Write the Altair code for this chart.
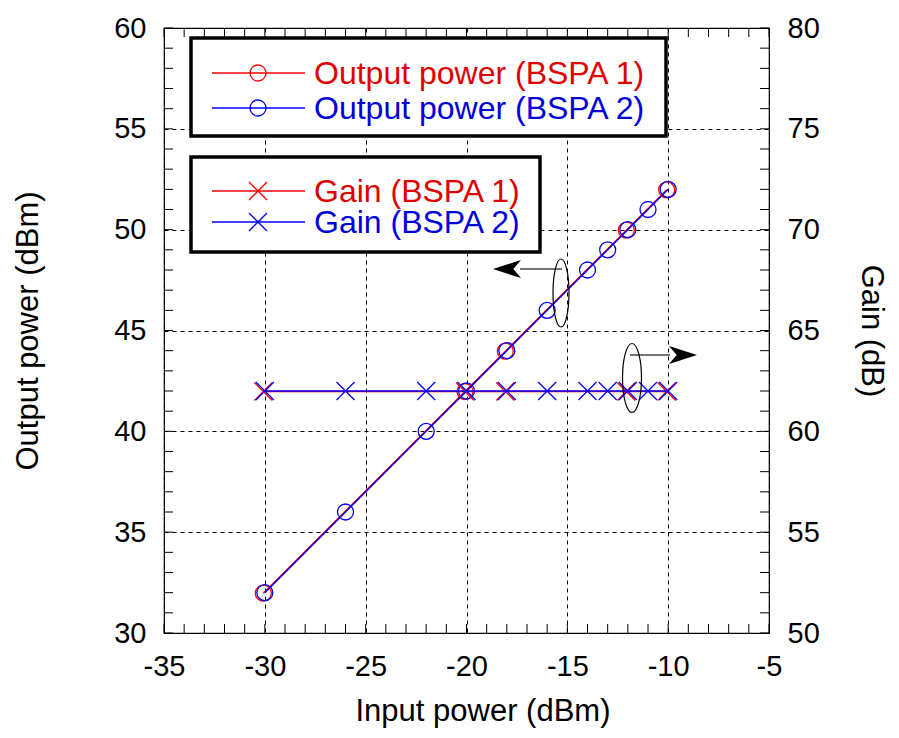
import altair as alt
import pandas as pd

# ---------------- data ----------------
input_bspa1 = [-30, -20, -18, -12, -10]
output_bspa1 = [32, 42, 44, 50, 52]
gain_bspa1 = [62, 62, 62, 62, 62]

input_bspa2 = [-30, -26, -22, -20, -18, -16, -14, -13, -12, -11, -10]
output_bspa2 = [32, 36, 40, 42, 44, 46, 48, 49, 50, 51, 52]
gain_bspa2 = [62, 62, 62, 62, 62, 62, 62, 62, 62, 62, 62]

x_major = [-35, -30, -25, -20, -15, -10, -5]
y_left_major = [30, 35, 40, 45, 50, 55, 60]
y_right_major = [50, 55, 60, 65, 70, 75, 80]
x_minor = list(range(-35, -4))
y_minor = list(range(30, 61))

legend_output = ["Output power (BSPA 1)", "Output power (BSPA 2)"]
legend_gain = ["Gain (BSPA 1)", "Gain (BSPA 2)"]

# ---------------- styles ----------------
FONT = "Liberation Sans"
W, H = 605, 605
RED, BLUE = "#ff0000", "#0000ff"
RED_T, BLUE_T = "#e00000", "#0000d8"
TICK = 9
CIRCLE_SIZE = 256
X_PATH = "M-1,-1L1,1M-1,1L1,-1"
X_SIZE = 324

xs = alt.Scale(domain=[-35, -5], nice=False, zero=False)
yl = alt.Scale(domain=[30, 60], nice=False, zero=False)
yr = alt.Scale(domain=[50, 80], nice=False, zero=False)

common = dict(
    labelFont=FONT, labelFontSize=29, labelColor="black",
    labelExpr="'' + datum.value",
    titleFont=FONT, titleFontSize=31, titleFontWeight="normal", titleColor="black",
    ticks=False, tickSize=0, domain=False,
    labelFlush=False, labelOverlap=False, labelBound=False,
)
x_axis = alt.Axis(values=x_major, title="Input power (dBm)", grid=True,
                  gridDash=[4, 4], gridColor="black", gridOpacity=1, gridWidth=1,
                  labelPadding=19, titlePadding=15, titleX=W / 2 + 16, **common)
yl_axis = alt.Axis(values=y_left_major, title="Output power (dBm)", grid=True,
                   gridDash=[4, 4], gridColor="black", gridOpacity=1, gridWidth=1,
                   labelPadding=18, titlePadding=69, **common)
yr_axis = alt.Axis(values=y_right_major, title="Gain (dB)", orient="right", grid=False,
                   labelPadding=18, titlePadding=35, **common)

df1 = pd.DataFrame({"input": input_bspa1, "output": output_bspa1, "gain": gain_bspa1})
df2 = pd.DataFrame({"input": input_bspa2, "output": output_bspa2, "gain": gain_bspa2})
dxm = pd.DataFrame({"v": x_minor})
dym = pd.DataFrame({"v": y_minor})

X = alt.X("input:Q", scale=xs, axis=x_axis)

# ---------------- left (output power) ----------------
left_layers = []
for df, col, off in [(df1, RED, (-1.5, 0.5)), (df2, BLUE, (0, 0))]:
    left_layers.append(
        alt.Chart(df).mark_line(color=col, strokeWidth=1.4, xOffset=off[0], yOffset=off[1])
        .encode(x=X, y=alt.Y("output:Q", scale=yl, axis=yl_axis))
    )
    left_layers.append(
        alt.Chart(df).mark_point(shape="circle", size=CIRCLE_SIZE, filled=False, color=col,
                                 strokeWidth=1.3, opacity=1, xOffset=off[0], yOffset=off[1])
        .encode(x=X, y=alt.Y("output:Q", scale=yl, axis=yl_axis))
    )

# inward minor ticks
XV = alt.X("v:Q", scale=xs, axis=x_axis)
YV = alt.Y("v:Q", scale=yl, axis=yl_axis)
left_layers += [
    alt.Chart(dxm).mark_rule(color="black", strokeWidth=1).encode(x=XV, y=alt.value(H), y2=alt.value(H - TICK)),
    alt.Chart(dxm).mark_rule(color="black", strokeWidth=1).encode(x=XV, y=alt.value(0), y2=alt.value(TICK)),
    alt.Chart(dym).mark_rule(color="black", strokeWidth=1).encode(y=YV, x=alt.value(0), x2=alt.value(TICK)),
    alt.Chart(dym).mark_rule(color="black", strokeWidth=1).encode(y=YV, x=alt.value(W), x2=alt.value(W - TICK)),
]
left = alt.layer(*left_layers)

# ---------------- right (gain) ----------------
right_layers = []
for df, col, off in [(df1, RED, (-1.5, 0.5)), (df2, BLUE, (0, 0))]:
    right_layers.append(
        alt.Chart(df).mark_line(color=col, strokeWidth=1.4, xOffset=off[0], yOffset=off[1])
        .encode(x=X, y=alt.Y("gain:Q", scale=yr, axis=yr_axis))
    )
    right_layers.append(
        alt.Chart(df).mark_point(shape=X_PATH, size=X_SIZE, filled=False, color=col,
                                 strokeWidth=1.3, opacity=1, xOffset=off[0], yOffset=off[1])
        .encode(x=X, y=alt.Y("gain:Q", scale=yr, axis=yr_axis))
    )
right = alt.layer(*right_layers)

# ---------------- legends & annotations ----------------
one = pd.DataFrame({"k": [0]})
deco = []
for (x1, x2, y1, y2) in [(27, 502, 10, 108), (27, 376, 129, 224)]:
    deco.append(alt.Chart(one).mark_rect(fill="white", stroke="black", strokeWidth=3.5)
                .encode(x=alt.value(x1), x2=alt.value(x2), y=alt.value(y1), y2=alt.value(y2)))
rows = [
    (legend_output[0], RED, RED_T, "circle", CIRCLE_SIZE, 45),
    (legend_output[1], BLUE, BLUE_T, "circle", CIRCLE_SIZE, 80),
    (legend_gain[0], RED, RED_T, X_PATH, X_SIZE, 163),
    (legend_gain[1], BLUE, BLUE_T, X_PATH, X_SIZE, 194),
]
for label, col, tcol, shp, sz, yy in rows:
    deco.append(alt.Chart(one).mark_rule(color=col, strokeWidth=1.4)
                .encode(x=alt.value(48), x2=alt.value(141), y=alt.value(yy)))
    deco.append(alt.Chart(one).mark_point(shape=shp, size=sz, filled=False, color=col,
                                          strokeWidth=1.3, opacity=1)
                .encode(x=alt.value(94), y=alt.value(yy)))
    deco.append(alt.Chart(pd.DataFrame({"label": [label]}))
                .mark_text(align="left", baseline="middle", font=FONT, fontSize=32, color=tcol)
                .encode(x=alt.value(150), y=alt.value(yy + 1), text="label:N"))

ELL1 = "M-0.235,0A0.235,1 0 1,0 0.235,0A0.235,1 0 1,0 -0.235,0"
ELL2 = "M-0.275,0A0.275,1 0 1,0 0.275,0A0.275,1 0 1,0 -0.275,0"
ARROW_L = "M-1,0L1,-0.65L0.45,0L1,0.65Z"
ARROW_R = "M1,0L-1,-0.65L-0.45,0L-1,0.65Z"
deco += [
    alt.Chart(one).mark_rule(color="#444444", strokeWidth=1.5)
    .encode(x=alt.value(356), x2=alt.value(398), y=alt.value(241)),
    alt.Chart(one).mark_point(shape=ARROW_L, size=784, filled=True, color="black", opacity=1)
    .encode(x=alt.value(343), y=alt.value(241)),
    alt.Chart(one).mark_point(shape=ELL1, size=68 * 68, filled=False, color="black",
                              strokeWidth=1.2, opacity=1)
    .encode(x=alt.value(397), y=alt.value(265)),
    alt.Chart(one).mark_rule(color="#444444", strokeWidth=1.5)
    .encode(x=alt.value(466), x2=alt.value(506), y=alt.value(327)),
    alt.Chart(one).mark_point(shape=ARROW_R, size=784, filled=True, color="black", opacity=1)
    .encode(x=alt.value(519), y=alt.value(327)),
    alt.Chart(one).mark_point(shape=ELL2, size=69 * 69, filled=False, color="black",
                              strokeWidth=1.2, opacity=1)
    .encode(x=alt.value(468), y=alt.value(350)),
]
deco_layer = alt.layer(*deco)

chart = (
    alt.layer(left, right, deco_layer)
    .resolve_scale(y="independent")
    .properties(
        width=W, height=H,
        autosize=alt.AutoSizeParams(type="none"),
        padding={"left": 156, "top": 20, "right": 122, "bottom": 97},
        background="white",
    )
    .configure_view(stroke="black", strokeWidth=1.2)
)

chart.save("out.html", embed_options={"renderer": "svg", "actions": False})
